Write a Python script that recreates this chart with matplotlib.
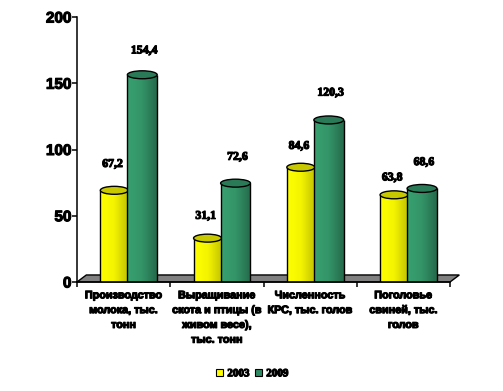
import matplotlib
matplotlib.use("Agg")
import numpy as np
import matplotlib.pyplot as plt
import matplotlib.patheffects as pe
from matplotlib.colors import LinearSegmentedColormap
from matplotlib.patches import Ellipse, Polygon, Patch

categories = ["Производство\nмолока, тыс.\nтонн",
              "Выращивание\nскота и птицы (в\nживом весе),\nтыс. тонн",
              "Численность\nКРС, тыс. голов",
              "Поголовье\nсвиней, тыс.\nголов"]
years = ["2003", "2009"]
values_2003 = [67.2, 31.1, 84.6, 63.8]
values_2009 = [154.4, 72.6, 120.3, 68.6]
labels_2003 = ["67,2", "31,1", "84,6", "63,8"]
labels_2009 = ["154,4", "72,6", "120,3", "68,6"]

# how far each label sits above its bar, in px
dy_2003 = [29, 25, 24, 20]
dy_2009 = [27, 29, 30, 29]

heavy = [pe.withStroke(linewidth=0.8, foreground="black")]
sans = "Liberation Sans"
serif = "Liberation Serif"

fig = plt.figure(figsize=(5.03, 3.91), dpi=100, facecolor="white")
ax = fig.add_axes([77 / 503, 109 / 391, 373 / 503, 265 / 391])

cap_h = 6
yellow = LinearSegmentedColormap.from_list("y", ["#ffff00", "#f4f400", "#c4c400"])
green = LinearSegmentedColormap.from_list("g", ["#38a070", "#339468", "#256b4c"])

# floor
ax.add_patch(Polygon([(0, 0), (4, 0), (4.1, 5.3), (0.1, 5.3)], facecolor="#808080",
                     edgecolor="black", lw=1, zorder=1, clip_on=False))


def draw_cylinders(vals, left, width, cmap, cap_col, z):
    for i, v in enumerate(vals):
        x = i + left
        top = v + cap_h / 2 - 1
        bar = ax.bar(x, top, width, align="edge", color=cmap(0.5), lw=0, zorder=z)[0]
        im = ax.imshow(np.linspace(0, 1, 40).reshape(1, -1), cmap=cmap, aspect="auto",
                       extent=(x, x + width, 0, top), zorder=z + 0.1)
        im.set_clip_path(bar)
        ax.vlines([x, x + width], 0, top, color="black", lw=1, zorder=z + 0.2)
        ax.hlines(0, x, x + width, color="black", lw=1.2, zorder=z + 0.2)
        ax.add_patch(Ellipse((x + width / 2, top), width, cap_h, facecolor=cap_col,
                             edgecolor="black", lw=1, zorder=z + 0.3))


draw_cylinders(values_2003, 0.25, 0.30, yellow, "#c8c800", 3)
draw_cylinders(values_2009, 0.54, 0.32, green, "#2a7a58", 4)

ax.set_xlim(0, 4)
ax.set_ylim(0, 200)

for i in range(4):
    ax.annotate(labels_2003[i], (i + 0.38, values_2003[i]), xytext=(0, dy_2003[i] * 0.72),
                textcoords="offset points", ha="center", va="center", family=serif,
                fontsize=8.5, fontweight="bold", path_effects=heavy, zorder=6)
    ax.annotate(labels_2009[i], (i + 0.72, values_2009[i]), xytext=(0, dy_2009[i] * 0.72),
                textcoords="offset points", ha="center", va="center", family=serif,
                fontsize=8.5, fontweight="bold", path_effects=heavy, zorder=6)

ax.spines["top"].set_visible(False)
ax.spines["right"].set_visible(False)
ax.spines["left"].set_linewidth(1.1)
ax.spines["bottom"].set_linewidth(1.1)
ax.spines["left"].set_zorder(5)
ax.set_yticks([0, 50, 100, 150, 200])
ax.set_xticks([0, 1, 2, 3, 4])
ax.set_xticklabels([])
ax.tick_params(axis="both", length=3.5, width=1.1)
ax.tick_params(axis="y", pad=0.5)
for t in ax.get_yticklabels():
    t.set_family(sans)
    t.set_fontweight("bold")
    t.set_fontsize(11)
    t.set_path_effects(heavy)

for i, c in enumerate(categories):
    ax.annotate(c, (i + 0.5, 0), xytext=(0, -6), textcoords="offset points", ha="center",
                va="top", family=sans, fontsize=7.8, fontweight="bold", linespacing=1.6,
                path_effects=heavy, annotation_clip=False)

handles = [Patch(facecolor="#ffff00", edgecolor="black", lw=0.8),
           Patch(facecolor="#2e8b64", edgecolor="black", lw=0.8)]
leg = fig.legend(handles, years, loc="center", bbox_to_anchor=(252 / 503, 1 - 373.5 / 391),
                 ncol=2, frameon=False, handlelength=0.65, handleheight=0.65,
                 handletextpad=0.4, columnspacing=0.45, borderpad=0,
                 prop={"family": serif, "weight": "bold", "size": 8})
for t in leg.get_texts():
    t.set_path_effects(heavy)

fig.savefig("out.png", dpi=100, facecolor="white")
